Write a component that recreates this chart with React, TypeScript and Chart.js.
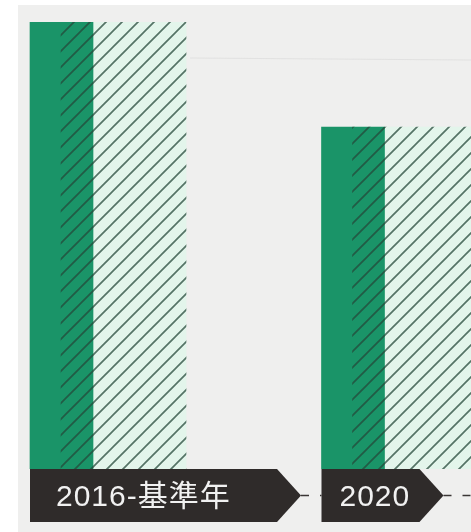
import React, { useEffect, useRef } from "react";
import { Chart, registerables } from "chart.js";

Chart.register(...registerables);

// ---- data ----
const categories: string[] = ["2016-基準年", "2020"];
const solidValues: number[] = [100, 76.5];
const hatchedValues: number[] = [100, 76.5];

// ---- styles ----
const W = 471;
const H = 532;
const GREEN = "#1a9468";
const MINT = "#e3f5eb";
const HATCH_LINE = "rgba(38,72,58,0.75)";
const BAND = "#2f2b2a";
const BAND_TEXT = "#f1f1f1";
const BAND_TOP = 469;
const BAND_BOTTOM = 522;
const BAND_RECT_WIDTHS = [247, 98];
const BAND_TIP = 24;
const TEXT_OFFSETS = [26, 18];
const FONT = "30px 'Liberation Sans', 'Noto Sans CJK TC', sans-serif";

function makeHatch(withBg: boolean): CanvasPattern | string {
  const s = 16;
  const c = document.createElement("canvas");
  c.width = s;
  c.height = s;
  const g = c.getContext("2d");
  if (!g) return MINT;
  if (withBg) {
    g.fillStyle = MINT;
    g.fillRect(0, 0, s, s);
    return g.createPattern(c, "repeat") || MINT;
  }
  g.strokeStyle = HATCH_LINE;
  g.lineWidth = 1.7;
  g.beginPath();
  g.moveTo(0, s);
  g.lineTo(s, 0);
  g.moveTo(-s / 2, s / 2);
  g.lineTo(s / 2, -s / 2);
  g.moveTo(s / 2, s + s / 2);
  g.lineTo(s + s / 2, s / 2);
  g.stroke();
  return g.createPattern(c, "repeat") || HATCH_LINE;
}

const backgroundPlugin = {
  id: "paperBg",
  beforeDraw(chart: any) {
    const ctx = chart.ctx;
    ctx.save();
    ctx.fillStyle = "#ffffff";
    ctx.fillRect(0, 0, chart.width, chart.height);
    ctx.fillStyle = "#efefee";
    ctx.fillRect(18, 5, chart.width - 18, chart.height - 5);
    ctx.strokeStyle = "rgba(200,200,200,0.35)";
    ctx.lineWidth = 1;
    ctx.beginPath();
    ctx.moveTo(190, 58);
    ctx.lineTo(chart.width, 60);
    ctx.stroke();
    ctx.restore();
  },
};

const bandPlugin = {
  id: "bands",
  afterDraw(chart: any) {
    const ctx = chart.ctx;
    const meta = chart.getDatasetMeta(1);
    const cy = (BAND_TOP + BAND_BOTTOM) / 2;
    const lefts: number[] = [];
    const tips: number[] = [];
    meta.data.forEach((bar: any, i: number) => {
      const left = bar.x - bar.width / 2;
      lefts.push(left);
      tips.push(left + BAND_RECT_WIDTHS[i] + BAND_TIP);
    });
    ctx.save();
    ctx.strokeStyle = "#3a3635";
    ctx.lineWidth = 1.6;
    ctx.setLineDash([8, 11]);
    for (let i = 0; i < tips.length; i++) {
      const end = i + 1 < lefts.length ? lefts[i + 1] : chart.width;
      ctx.beginPath();
      ctx.moveTo(tips[i], cy);
      ctx.lineTo(end, cy);
      ctx.stroke();
    }
    ctx.setLineDash([]);
    meta.data.forEach((_bar: any, i: number) => {
      const left = lefts[i];
      const rectRight = left + BAND_RECT_WIDTHS[i];
      ctx.fillStyle = BAND;
      ctx.beginPath();
      ctx.moveTo(left, BAND_TOP);
      ctx.lineTo(rectRight, BAND_TOP);
      ctx.lineTo(rectRight + BAND_TIP, cy);
      ctx.lineTo(rectRight, BAND_BOTTOM);
      ctx.lineTo(left, BAND_BOTTOM);
      ctx.closePath();
      ctx.fill();
      ctx.fillStyle = BAND_TEXT;
      ctx.font = FONT;
      (ctx as any).letterSpacing = "1px";
      ctx.textBaseline = "middle";
      ctx.textAlign = "left";
      ctx.fillText(categories[i], left + TEXT_OFFSETS[i], cy + 2);
    });
    ctx.restore();
  },
};

export default function App() {
  const ref = useRef<HTMLCanvasElement | null>(null);
  useEffect(() => {
    document.body.style.margin = "0";
    const canvas = ref.current;
    if (!canvas) return;
    const hatchBg = makeHatch(true);
    const hatchLines = makeHatch(false);
    const pts = (vals: number[]) => vals.map((v, i) => ({ x: i, y: v }));
    const chart = new Chart(canvas, {
      type: "bar",
      data: {
        datasets: [
          {
            label: "hatch-fill",
            data: pts(hatchedValues) as any,
            xAxisID: "x2",
            backgroundColor: hatchBg as any,
            barThickness: 125,
            grouped: false,
            order: 3,
          },
          {
            label: "solid",
            data: pts(solidValues) as any,
            xAxisID: "x",
            backgroundColor: GREEN,
            barThickness: 63,
            grouped: false,
            order: 2,
          },
          {
            label: "hatch-lines",
            data: pts(hatchedValues) as any,
            xAxisID: "x2",
            backgroundColor: hatchLines as any,
            barThickness: 125,
            grouped: false,
            order: 1,
          },
        ],
      },
      options: {
        animation: false,
        responsive: false,
        devicePixelRatio: 1,
        layout: { padding: { top: 22, bottom: H - BAND_TOP, left: 0, right: 0 } },
        plugins: { legend: { display: false }, tooltip: { enabled: false } },
        scales: {
          x: { type: "linear", display: false, offset: false, min: -0.211, max: 1.4048 },
          x2: { type: "linear", display: false, offset: false, min: -0.4237, max: 1.1921 },
          y: { display: false, min: 0, max: 100 },
        },
      },
      plugins: [backgroundPlugin, bandPlugin],
    });
    return () => chart.destroy();
  }, []);
  return <canvas ref={ref} width={W} height={H} style={{ display: "block", width: W, height: H }} />;
}
